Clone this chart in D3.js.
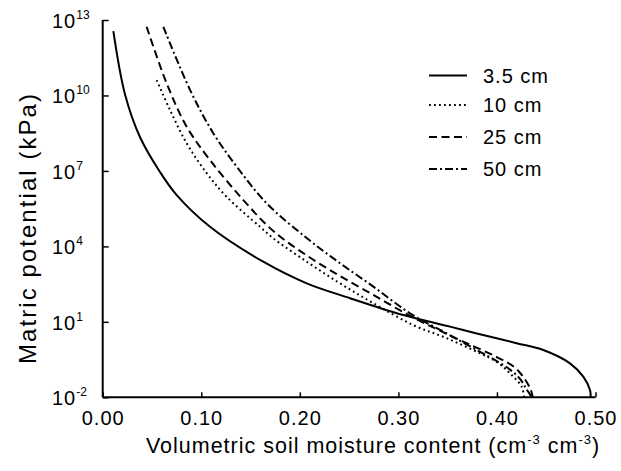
<!DOCTYPE html>
<html><head><meta charset="utf-8">
<script src="https://cdn.jsdelivr.net/npm/d3@7"></script>
<style>
body{margin:0;background:#fff;}
text{font-family:"Liberation Sans",Arial,sans-serif;fill:#000;}
</style></head>
<body><svg id="c" width="621" height="471"></svg>
<script>
// ---- data (theta in cm3/cm3, potential as log10 of kPa) ----
const seriesNames = ["3.5 cm","10 cm","25 cm","50 cm"];
const theta35 = [0.0108,0.0226,0.0378,0.0581,0.0751,0.1089,0.1629,0.2070,0.2509,0.3050,0.3524,0.3795,0.4200,0.4470,0.4741,0.4876,0.4944,0.4951];
const logPsi35 = [12.56,10.05,8.35,6.96,6.04,4.78,3.39,2.53,1.94,1.27,0.81,0.54,0.15,-0.12,-0.65,-1.18,-1.71,-2.0];
const theta10 = [0.0548,0.0683,0.0852,0.1055,0.1258,0.1596,0.1731,0.2070,0.2408,0.2746,0.3151,0.3490,0.3828,0.3998,0.4133,0.4251,0.4275];
const logPsi10 = [10.61,9.42,8.10,6.91,5.97,4.78,4.32,3.39,2.53,1.74,0.87,0.35,-0.25,-0.59,-1.05,-1.58,-2.0];
const theta25 = [0.0446,0.0649,0.0852,0.1089,0.1427,0.1731,0.2070,0.2408,0.2746,0.3084,0.3389,0.3659,0.3998,0.4200,0.4335,0.4363];
const logPsi25 = [12.73,10.48,8.76,7.43,5.84,4.61,3.64,2.82,2.07,1.31,0.71,0.21,-0.40,-0.88,-1.63,-2.0];
const theta50 = [0.0615,0.0886,0.1122,0.1360,0.1664,0.2070,0.2408,0.2746,0.3118,0.3490,0.3828,0.3998,0.4133,0.4234,0.4305,0.4356];
const logPsi50 = [12.73,10.22,8.50,7.17,5.71,4.33,3.33,2.40,1.34,0.54,-0.19,-0.56,-0.90,-1.27,-1.71,-2.0];
const xTicks = [0,0.1,0.2,0.3,0.4,0.5];
const xTickLabels = ["0.00","0.10","0.20","0.30","0.40","0.50"];
const yTickExp = [-2,1,4,7,10,13];

const series = [
  {name:seriesNames[0], t:theta35, p:logPsi35, dash:null},
  {name:seriesNames[1], t:theta10, p:logPsi10, dash:"1.8,3.2"},
  {name:seriesNames[2], t:theta25, p:logPsi25, dash:"8,4.5"},
  {name:seriesNames[3], t:theta50, p:logPsi50, dash:"8,3,2,3"}
];

const svg = d3.select("#c");
const L=102.7, R=595.5, T=20, B=397.3;
const x = d3.scaleLinear().domain([0,0.5]).range([L,R]);
const y = d3.scaleLog().domain([1e-2,1e13]).range([B,T]);

// axes
const xAxis = d3.axisBottom(x).tickValues(xTicks).tickSize(-5).tickPadding(14)
  .tickFormat((d,i)=>xTickLabels[i]);
const gx = svg.append("g").attr("transform",`translate(0,${B})`).call(xAxis);
gx.select(".domain").attr("d",`M${L},0H${R}`).attr("stroke","#000").attr("stroke-width",2);
gx.selectAll(".tick line").attr("stroke","#000").attr("stroke-width",1.5);
gx.selectAll(".tick text").style("font-size","20px").style("letter-spacing","1px")
  .style("font-family","'Liberation Sans',Arial,sans-serif").attr("fill","#000");

const yVals = yTickExp.map(e=>Math.pow(10,e));
const yAxis = d3.axisLeft(y).tickValues(yVals).tickSize(-6).tickFormat("");
const gy = svg.append("g").attr("transform",`translate(${L},0)`).call(yAxis);
gy.select(".domain").attr("d",`M0,${T}V${B}`).attr("stroke","#000").attr("stroke-width",2);
gy.selectAll(".tick line").attr("stroke","#000").attr("stroke-width",1.5);

// y tick labels with superscripts
yTickExp.forEach(e=>{
  const t = svg.append("text").attr("x",52).attr("y",y(Math.pow(10,e))+8)
    .style("font-size","20px").style("letter-spacing","1px");
  t.append("tspan").text("10");
  t.append("tspan").attr("dy",-9).style("font-size","12px").style("letter-spacing","0px").text(String(e));
});

// curves
const line = d3.line().x(d=>x(d[0])).y(d=>y(Math.pow(10,d[1]))).curve(d3.curveCatmullRom.alpha(0.5));
series.forEach(s=>{
  const pts = s.t.map((v,i)=>[v,s.p[i]]);
  svg.append("path").datum(pts).attr("d",line).attr("fill","none")
    .attr("stroke","#000").attr("stroke-width",2)
    .attr("stroke-dasharray",s.dash);
});

// legend
const legY = [75.5,105,137,169];
series.forEach((s,i)=>{
  svg.append("line").attr("x1",429).attr("x2",467).attr("y1",legY[i]).attr("y2",legY[i])
    .attr("stroke","#000").attr("stroke-width",2).attr("stroke-dasharray",s.dash);
  svg.append("text").attr("x",483).attr("y",legY[i]+7).style("font-size","20px")
    .style("letter-spacing","1px").text(s.name);
});

// axis titles
const xt = svg.append("text").attr("x",373).attr("y",453).attr("text-anchor","middle")
  .style("font-size","21.5px").style("letter-spacing","1px");
xt.append("tspan").text("Volumetric soil moisture content (cm");
xt.append("tspan").attr("dy",-9).style("font-size","13px").text("-3");
xt.append("tspan").attr("dy",9).text(" cm");
xt.append("tspan").attr("dy",-9).style("font-size","13px").text("-3");
xt.append("tspan").attr("dy",9).text(")");

svg.append("text").attr("transform","translate(36,229) rotate(-90)").attr("text-anchor","middle")
  .attr("textLength",270).attr("lengthAdjust","spacing")
  .style("font-size","24px").text("Matric potential (kPa)");
</script></body></html>
